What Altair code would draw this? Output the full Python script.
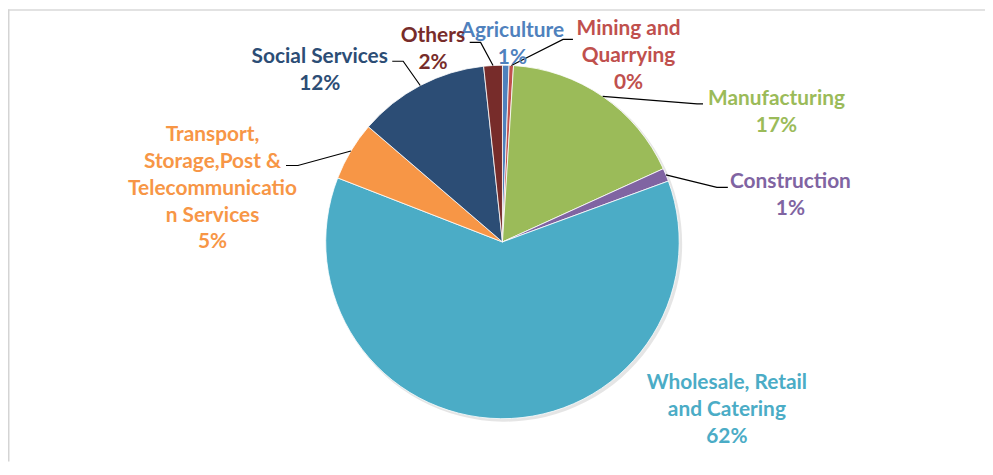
import math
import altair as alt
import pandas as pd

# ---- data ----
categories = [
    "Agriculture",
    "Mining and Quarrying",
    "Manufacturing",
    "Construction",
    "Wholesale, Retail and Catering",
    "Transport, Storage,Post & Telecommunication Services",
    "Social Services",
    "Others",
]
shares = [0.6, 0.4, 17.2, 1.2, 61.5, 5.4, 12.0, 1.7]
pct_labels = ["1%", "0%", "17%", "1%", "62%", "5%", "12%", "2%"]
label_lines = [
    ["Agriculture"],
    ["Mining and", "Quarrying"],
    ["Manufacturing"],
    ["Construction"],
    ["Wholesale, Retail", "and Catering"],
    ["Transport,", "Storage,Post &", "Telecommunicatio", "n Services"],
    ["Social Services"],
    ["Others"],
]
colors = ["#4F81BD", "#C0504D", "#9BBB59", "#8064A2", "#4BACC6", "#F79646", "#2C4D75", "#772C2A"]

# ---- layout (plot-area pixels) ----
W, H = 984, 455
CX, CY, R = 498, 234, 178
LINE_H = 27
FONT_SIZE = 21
CAP_SHIFT = 7.5
# label block: centre x, first-line centre y
label_pos = [(508, 20), (625, 18), (774, 89), (788, 172), (724, 375), (206, 125), (314, 46), (428, 25)]
# leader elbows / ends (None = no leader)
leaders = [
    None,
    [(559, 30), (569, 30)],
    [(694, 95), (700, 95)],
    [(714, 179), (725, 179)],
    None,
    [(292, 157), (280, 157)],
    [(398, 52), (387, 52)],
    [(476, 33), (465, 33)],
]

color_scale = alt.Scale(domain=categories, range=colors)

pie_df = pd.DataFrame({"category": categories, "share": shares, "order": list(range(len(categories)))})

shadow = alt.Chart(pie_df).mark_arc(outerRadius=R + 1, color="#000000", opacity=0.10).encode(
    theta=alt.Theta("share:Q", stack=True),
    order=alt.Order("order:Q"),
    x=alt.value(CX + 2),
    y=alt.value(CY + 2),
)

pie = alt.Chart(pie_df).mark_arc(outerRadius=R, stroke="white", strokeWidth=0.8).encode(
    theta=alt.Theta("share:Q", stack=True),
    order=alt.Order("order:Q"),
    color=alt.Color("category:N", scale=color_scale, legend=None),
    x=alt.value(CX),
    y=alt.value(CY),
)

rows = []
for i, cat in enumerate(categories):
    lx, ly = label_pos[i]
    for j, t in enumerate(label_lines[i] + [pct_labels[i]]):
        rows.append({"category": cat, "text": t, "px": lx, "py": ly + j * LINE_H + CAP_SHIFT})
text_df = pd.DataFrame(rows)

labels = alt.Chart(text_df).mark_text(
    font="Lato", fontWeight="bold", fontSize=FONT_SIZE, align="center", baseline="alphabetic"
).encode(
    x=alt.X("px:Q", scale=None, axis=None),
    y=alt.Y("py:Q", scale=None, axis=None),
    text="text:N",
    color=alt.Color("category:N", scale=color_scale, legend=None),
)

lead_rows = []
cum = 0.0
total = sum(shares)
for i, cat in enumerate(categories):
    mid = (cum + shares[i] / 2) / total * 2 * math.pi
    cum += shares[i]
    if leaders[i] is None:
        continue
    pts = [(CX + R * math.sin(mid), CY - R * math.cos(mid))] + leaders[i]
    for k, (px, py) in enumerate(pts):
        lead_rows.append({"category": cat, "k": k, "px": px, "py": py})
lead_df = pd.DataFrame(lead_rows)

lead = alt.Chart(lead_df).mark_line(color="black", strokeWidth=1.2).encode(
    x=alt.X("px:Q", scale=None, axis=None),
    y=alt.Y("py:Q", scale=None, axis=None),
    detail="category:N",
    order="k:Q",
)

one = pd.DataFrame({"a": [0]})
frame_top = alt.Chart(one).mark_rule(color="#d9d9d9", strokeWidth=1.5).encode(
    x=alt.value(0), x2=alt.value(W), y=alt.value(0.5)
)
frame_left = alt.Chart(one).mark_rule(color="#d4d4d4", strokeWidth=2).encode(
    x=alt.value(0.5), y=alt.value(0), y2=alt.value(H)
)

chart = alt.layer(frame_top, frame_left, shadow, pie, lead, labels).properties(
    width=W, height=H, padding=0, autosize="none"
).configure_view(stroke=None)

chart.save("out.html", embed_options={"renderer": "svg", "actions": False})
